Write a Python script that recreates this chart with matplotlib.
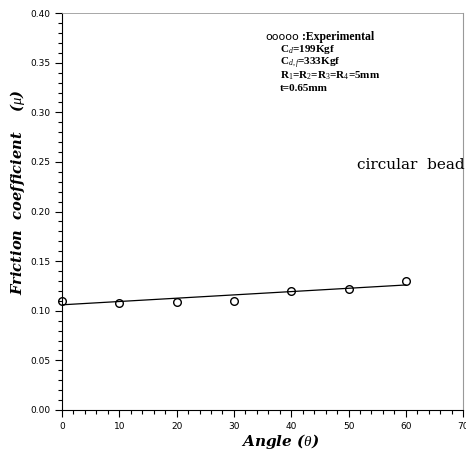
import matplotlib.pyplot as plt
from matplotlib.ticker import MultipleLocator

plt.rcParams['mathtext.fontset'] = 'custom'
plt.rcParams['mathtext.rm'] = 'Liberation Serif'
plt.rcParams['mathtext.it'] = 'Liberation Serif:italic'
plt.rcParams['mathtext.bf'] = 'Liberation Serif:bold'

angle = [0, 10, 20, 30, 40, 50, 60]
mu = [0.110, 0.108, 0.109, 0.110, 0.120, 0.122, 0.130]

# fitted line endpoints
fit_angle = [0, 60]
fit_mu = [0.106, 0.126]

fig = plt.figure(figsize=(4.66, 4.54), dpi=100)
ax = fig.add_axes([0.133, 0.097, 0.861, 0.874])

ax.plot(fit_angle, fit_mu, color='black', lw=0.9)
ax.plot(angle, mu, 'o', mfc='none', mec='black', ms=5.5, mew=1.0, clip_on=False)

ax.set_xlim(0, 70)
ax.set_ylim(0, 0.40)
ax.xaxis.set_major_locator(MultipleLocator(10))
ax.xaxis.set_minor_locator(MultipleLocator(2))
ax.yaxis.set_major_locator(MultipleLocator(0.05))
ax.yaxis.set_minor_locator(MultipleLocator(0.01))
ax.yaxis.set_major_formatter(plt.FuncFormatter(lambda v, p: f'{v:.2f}'))
ax.tick_params(which='both', direction='out', labelsize=6.5, width=0.8)
ax.tick_params(which='major', length=5)
ax.tick_params(which='minor', length=3)
ax.spines['top'].set_color('#999999')
ax.spines['right'].set_color('#999999')
ax.spines['top'].set_linewidth(0.6)

ax.set_xlabel(r'Angle ($\theta$)', fontsize=11, fontweight='bold', style='italic',
              family='DejaVu Serif')
ax.xaxis.set_label_coords(0.544, -0.055)
ax.set_ylabel(r'Friction  coefficient    ($\mu$)', fontsize=10.5, fontweight='bold',
              style='italic', family='DejaVu Serif')
ax.yaxis.set_label_coords(-0.087, 0.55)

ax.text(0.506, 0.94, 'ooooo', transform=ax.transAxes, fontsize=8,
        family='DejaVu Sans', va='center')
ax.text(0.598, 0.94, ':Experimental', transform=ax.transAxes, fontsize=8.5,
        fontweight='bold', family='Liberation Serif', va='center')
lines = [r'C$_d$=199Kgf', r'C$_{d,f}$=333Kgf',
         r'R$_1$=R$_2$=R$_3$=R$_4$=5mm', 't=0.65mm']
for i, s in enumerate(lines):
    ax.text(0.544, 0.902 - i * 0.033, s, transform=ax.transAxes, fontsize=8,
            fontweight='bold', family='Liberation Serif', va='baseline')

ax.text(0.735, 0.617, 'circular  bead', transform=ax.transAxes, fontsize=11,
        family='DejaVu Serif', va='center')

fig.savefig('out.png', dpi=100)
